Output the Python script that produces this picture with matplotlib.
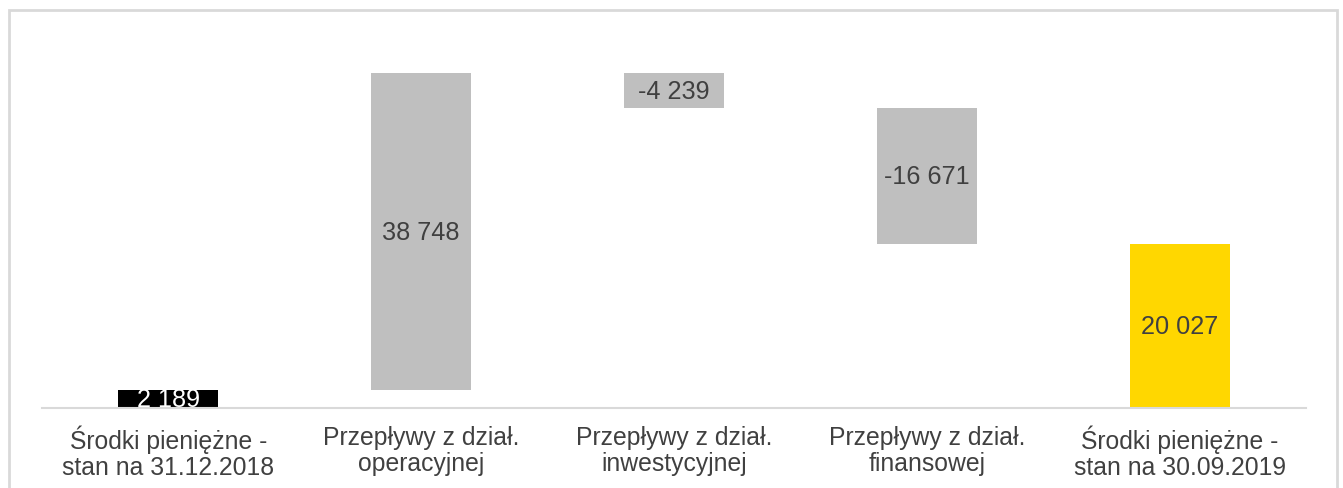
import matplotlib.pyplot as plt
from matplotlib.patches import Rectangle

plt.rcParams['font.family'] = ['Liberation Sans', 'DejaVu Sans']

# waterfall data (thousands PLN)
categories = ['Środki pieniężne -\nstan na 31.12.2018', 'Przepływy z dział.\noperacyjnej',
              'Przepływy z dział.\ninwestycyjnej', 'Przepływy z dział.\nfinansowej',
              'Środki pieniężne -\nstan na 30.09.2019']
values = [2189, 38748, -4239, -16671, 20027]
labels = ['2 189', '38 748', '-4 239', '-16 671', '20 027']
colors = ['#000000', '#bfbfbf', '#bfbfbf', '#bfbfbf', '#ffd700']
label_colors = ['white', '#404040', '#404040', '#404040', '#404040']

# bar bottoms: totals start at 0, flows float on running total
bottoms = []
heights = []
running = 0
for i, v in enumerate(values):
    if i == 0 or i == len(values) - 1:
        bottoms.append(0)
        heights.append(v)
        running = v
    else:
        if v >= 0:
            bottoms.append(running)
        else:
            bottoms.append(running + v)
        heights.append(abs(v))
        running += v

fig = plt.figure(figsize=(13.43, 4.89), dpi=100)
ax = fig.add_axes([42 / 1343, 1 - 409 / 489, 1264 / 1343, 368 / 489])

x = range(len(values))
ax.bar(x, heights, bottom=bottoms, width=0.395, color=colors, zorder=2)

for i in x:
    t = ax.text(i, bottoms[i] + heights[i] / 2, labels[i], ha='center', va='center',
                fontsize=18.2, color=label_colors[i], zorder=3)
    t.set_clip_on(True)

ax.set_xlim(-0.5, 4.5)
ax.set_ylim(0, 45000)
ax.set_xticks(list(x))
ax.set_xticklabels(categories, fontsize=17.8, color='#404040', linespacing=1.1)
ax.tick_params(axis='x', length=0, pad=12)
ax.set_yticks([])
for s in ['top', 'left', 'right']:
    ax.spines[s].set_visible(False)
ax.spines['bottom'].set_color('#d9d9d9')
ax.spines['bottom'].set_linewidth(1.5)

# outer frame
fig.patches.append(Rectangle((9 / 1343, -0.1), 1328 / 1343, 1.1 - 11 / 489,
                             transform=fig.transFigure, fill=False,
                             edgecolor='#d9d9d9', linewidth=2))

fig.savefig('out.png', dpi=100)
